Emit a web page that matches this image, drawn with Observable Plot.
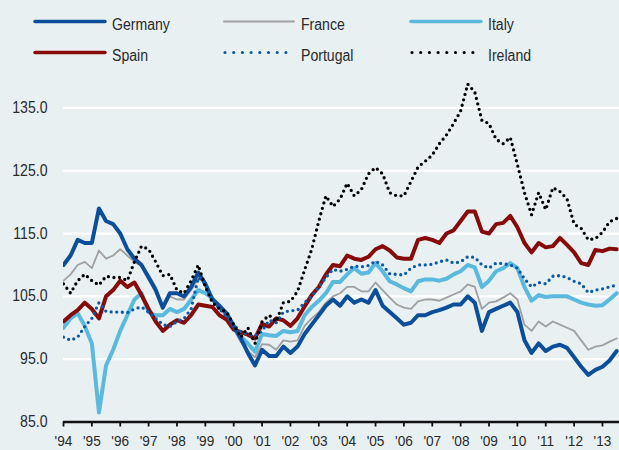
<!DOCTYPE html>
<html><head><meta charset="utf-8">
<script src="https://cdn.jsdelivr.net/npm/d3@7"></script>
<script src="https://cdn.jsdelivr.net/npm/@observablehq/plot@0.6"></script>
<style>
html,body{margin:0;padding:0;background:#e8f0f2;}
#wrap{position:relative;width:619px;height:450px;overflow:hidden;background:#e8f0f2;
  font-family:"Liberation Sans",Arial,sans-serif;}
#chart{position:absolute;left:0;top:0;}
#legend{position:absolute;left:0;top:0;}
</style></head><body>
<div id="wrap"><div id="chart"></div><svg id="legend" width="619" height="72"></svg></div>
<script>
// quarterly observations starting Q1 1994
const startYear = 1994;
const stepYears = 0.25;
const yearTicks = [1994,1995,1996,1997,1998,1999,2000,2001,2002,2003,2004,2005,2006,2007,2008,2009,2010,2011,2012,2013];
const valueTicks = [85,95,105,115,125,135];

const germany = [110,111.5,114,113.5,113.5,119,117,116.5,115,112.5,111,110,108,106,103.2,105.5,105.5,105,106.5,108.8,107,
104.5,103.5,102.3,100.3,98.3,96,94,96.5,95.5,95.5,97,96,97,99,100.5,102,103.5,104.5,103.5,105,
104,104.5,104,106,103.5,102.5,101.5,100.5,100.8,102,102,102.5,102.8,103.2,103.7,103.7,105,104,99.5,102.5,
103,103.5,104,102.5,98,96,97.5,96.3,97,97.3,96.8,95.3,93.8,92.5,93.3,93.8,94.8,96.3];
const france = [107.5,108.5,110,110.5,109.5,112.3,111,111.5,112.5,111.5,110.5,109.8,108.5,106.5,103,105,104.5,104.5,106,107.8,107.2,
104.5,103,102,99.8,97.7,96.3,95.3,97.4,97.3,96.5,98,97.8,98,100.3,101.5,102.5,104,105,105.5,106.5,
106.5,105.8,105.8,107.2,106,104.8,103.7,103.2,103,104.2,104.5,104.5,104.3,104.8,105.3,105.8,106.9,106.5,103,104,
104.2,104.8,105.5,104.5,100.5,99.5,101,100.2,101,100.5,100,99.5,98,96.5,97,97.2,97.8,98.3];
const italy = [100,101.5,102.3,100.3,97.5,86.5,94,96.5,99.5,102,104.5,105.5,102.5,102,102,103,102.5,103,104.5,106,105.5,
104.7,103.3,102,100,98.6,97.5,96.2,99,98.8,98.7,99.5,99.3,99.5,102,103.3,104.3,105.5,107.3,107.3,108.5,
109.5,108.6,108.8,110.3,109,107.4,106.9,106.3,105.8,107.4,107.7,107.7,107.5,107.8,108.5,109,110,109.6,106.5,107.5,
109,109.5,110.3,109.5,106.5,104.3,105.2,104.9,105,105,105,104.5,104,103.7,103.5,103.6,104.5,105.5];
const spain = [101,102,102.8,104,103,101.5,105,106,107.5,106.5,107.2,105.2,103,101,99.5,100.5,101.2,100.8,102,103.7,103.5,
103.3,102,101.3,99.7,99.3,98.9,98.3,100.6,100.2,101.5,101.2,100.3,101.5,103.4,105.2,106.5,108.5,110,109.8,111.5,
111,110.8,111.3,112.5,113,112.3,111.2,111,111,114,114.3,114,113.5,115,115.5,117,118.5,118.5,115.3,115,
116.5,116.7,117.8,116,113.5,112,113.5,112.8,113,114.3,113.2,112,110.3,110,112.4,112.2,112.6,112.5];
const portugal = [98.5,98,98.5,100.2,101.5,104,102.6,102.5,102.5,102.4,103,103.3,102.5,101.5,100.5,100.2,101,101.5,103,108,107,
104.5,103,101.8,100.5,99.3,99,98.7,99.5,101.2,100.8,102.5,102.7,102.8,104,105,106.5,108,109.3,109,109.3,
109.8,109.7,109.9,110.6,110,108.6,108.5,108.4,109.5,110,110,110.1,110.5,110.8,110.3,110.5,111.3,111.2,110,109.5,
110.3,110.2,110,109.5,107.8,106.5,107.2,107,108.2,108.3,108,107.4,107,105.6,106,106.2,106.5,106.8];
const ireland = [107,105.5,107.5,108.5,107.5,106.8,108.2,108,108,107.5,110.5,113,112.5,110.5,108.3,108.5,106,105.5,107.5,110,106.5,
104,103,102.5,100.5,98.5,100,97.5,101,102,101,104,104.2,105.8,109.2,112.5,117,121,119.3,120.5,123,
121,122,124.5,125.5,124.5,121.5,121,121,123.3,125.6,126.5,127.5,129.3,130.7,132.5,134.5,138.8,137.5,133,132.5,
130,129.3,130.3,126,121.5,118,121.5,118.8,122.3,121.7,120.5,116.5,115.8,114,114.2,115.2,116.9,117.4];

const seriesNames = ["Germany","France","Italy","Spain","Portugal","Ireland"];
const seriesValues = [germany, france, italy, spain, portugal, ireland];
const seriesStyle = {
  Germany:  {stroke:"#0d4e9a", strokeWidth:4},
  France:   {stroke:"#a0a0a0", strokeWidth:1.8},
  Italy:    {stroke:"#5bb9de", strokeWidth:4},
  Spain:    {stroke:"#870b0b", strokeWidth:4},
  Portugal: {stroke:"#0c5aa6", strokeWidth:3.3, strokeDasharray:"0,5.6", strokeLinecap:"round"},
  Ireland:  {stroke:"#000000", strokeWidth:3.3, strokeDasharray:"0,5.6", strokeLinecap:"round"}
};

const rows = (i) => seriesValues[i].map((v, k) => ({t: startYear + k * stepYears, v}));
const drawOrder = ["Italy","France","Spain","Germany","Portugal","Ireland"];
const FONT = '"Liberation Sans",Arial,sans-serif';

const chart = Plot.plot({
  width: 619, height: 450,
  marginTop: 76, marginBottom: 28.5, marginLeft: 63, marginRight: 0,
  style: {background: "transparent", fontFamily: FONT, color: "#2a2a2a", overflow: "visible"},
  x: {type: "linear", domain: [1994, 2013.6], axis: null},
  y: {domain: [85, 140], axis: null},
  marks: [
    Plot.ruleY(valueTicks.filter(d => d !== 85), {stroke: "white", strokeWidth: 2.2}),
    Plot.axisY({ticks: valueTicks, tickSize: 0, tickPadding: 16, label: null,
      tickFormat: d => d.toFixed(1), fontSize: 16}),
    ...drawOrder.map(name => Plot.line(rows(seriesNames.indexOf(name)), {x: "t", y: "v", ...seriesStyle[name], clip: true})),
    Plot.ruleY([85], {stroke: "#111", strokeWidth: 2.5}),
    Plot.axisX({ticks: yearTicks, tickSize: 5, tickPadding: 8, stroke: "#111", strokeWidth: 1.8, label: null,
      tickFormat: d => "'" + String(d).slice(2), fontSize: 15.5})
  ]
});
document.getElementById("chart").appendChild(chart);

// legend
const leg = d3.select("#legend");
const cols = [35, 224, 411];
const rowY = [21.5, 52.5];
seriesNames.forEach((name, i) => {
  const cx = cols[i % 3], cy = rowY[Math.floor(i / 3)];
  const st = seriesStyle[name];
  const dotted = !!st.strokeDasharray;
  leg.append("line").attr("x1", cx + (dotted ? 1 : 0)).attr("x2", cx + 70).attr("y1", cy).attr("y2", cy)
    .attr("stroke", st.stroke).attr("stroke-width", dotted ? 3.2 : (name === "France" ? 2 : 3.4))
    .attr("stroke-linecap", "round")
    .attr("stroke-dasharray", dotted ? "0,8.7" : null);
  leg.append("text").attr("x", cx + 77).attr("y", cy + 8).text(name)
    .attr("font-size", 16).attr("fill", "#2a2a2a").attr("font-family", FONT);
});

// condense glyphs horizontally to mimic the narrow typeface of the original
function narrow(root, f) {
  root.querySelectorAll("text").forEach(t => {
    const L = t.getComputedTextLength();
    if (L > 0) {
      t.setAttribute("textLength", (L * f).toFixed(2));
      t.setAttribute("lengthAdjust", "spacingAndGlyphs");
    }
  });
}
narrow(document.getElementById("chart"), 0.88);
narrow(document.getElementById("legend"), 0.88);
</script>
</body></html>
